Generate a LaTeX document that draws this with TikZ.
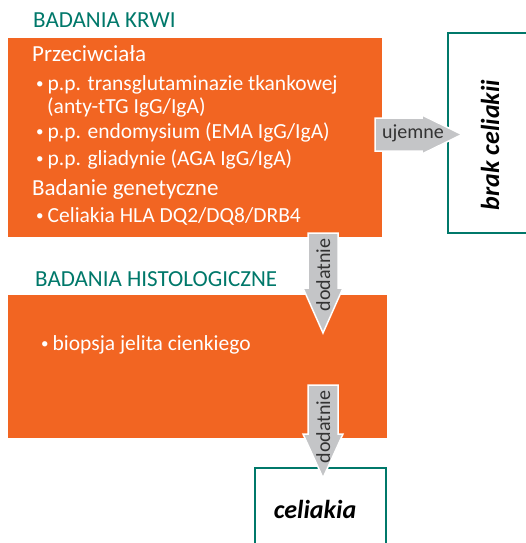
\documentclass[tikz,border=0pt]{standalone}
\usepackage{fontspec}
\setmainfont{Carlito}

\definecolor{pomarancz}{HTML}{F26522}
\definecolor{morski}{HTML}{00786A}
\definecolor{szary}{HTML}{C4C5C7}
\definecolor{ciemny}{HTML}{333333}

% mała kropka wypunktowania
\newcommand{\kropka}{\raisebox{1.5pt}{\fontsize{15}{15}\selectfont\textbullet}\hspace{4pt}}

\begin{document}
\begin{tikzpicture}[
    x=1pt, y=-1pt,
    blok/.style={fill=pomarancz, draw=none, inner sep=0pt, anchor=north west},
    wynik/.style={draw=morski, line width=2pt, fill=white, inner sep=0pt, anchor=north west},
    naglowek/.style={anchor=base west, inner sep=0pt, text=morski, font=\fontsize{23}{27}\selectfont},
    tytul/.style={anchor=base west, inner sep=0pt, text=white, font=\fontsize{23}{27}\selectfont},
    punkt/.style={anchor=base west, inner sep=0pt, text=white, font=\fontsize{21.5}{25}\selectfont},
    strzalka/.style={fill=szary, draw=white, line width=1.5pt, line join=miter},
    etykieta/.style={anchor=base, inner sep=0pt, text=ciemny, font=\fontsize{20}{23}\selectfont},
    wniosek/.style={anchor=base, inner sep=0pt, text=black, font=\fontsize{26}{30}\selectfont\bfseries\itshape}
]
\useasboundingbox (0,0) rectangle (526,543);

% Badania krwi
\node[naglowek] (hkrwi) at (33,28) {BADANIA KRWI};
\node[blok, minimum width=374, minimum height=199] (krwi) at (8,38) {};
\node[tytul] (przeciw) at (32,62) {Przeciwciała};
\node[punkt] (p1) at (36,90) {\kropka p.p. transglutaminazie tkankowej};
\node[punkt] (p1b) at (47,113) {(anty-tTG IgG/IgA)};
\node[punkt] (p2) at (36,138) {\kropka p.p. endomysium (EMA IgG/IgA)};
\node[punkt] (p3) at (36,165) {\kropka p.p. gliadynie (AGA IgG/IgA)};
\node[tytul] (genet) at (32,195) {Badanie genetyczne};
\node[punkt] (p4) at (36,222) {\kropka Celiakia HLA DQ2/DQ8/DRB4};

% Badania histologiczne
\node[naglowek] (hhist) at (35,286) {BADANIA HISTOLOGICZNE};
\node[blok, minimum width=379, minimum height=143] (hist) at (8,295) {};
\node[punkt] (p5) at (41,350) {\kropka biopsja jelita cienkiego};

% Wyniki
\node[wynik, minimum width=100, minimum height=200] (brak) at (447,32) {};
\node[wniosek, rotate=90] (tbrak) at (499,145) {brak celiakii};
\node[wynik, minimum width=131, minimum height=100] (celiakia) at (254,467) {};
\node[wniosek] (tceliakia) at (315,518) {celiakia};

% Strzałki
\draw[strzalka] (375,118) -- (422,118) -- (422,115) -- (462,134.5) -- (422,154)
    -- (422,151) -- (375,151) -- cycle;
\node[etykieta] (l1) at (413,138) {ujemne};

\draw[strzalka] (308,233) -- (308,288) -- (303,288) -- (323,333) -- (343,288)
    -- (338,288) -- (338,233) -- cycle;
\node[etykieta, rotate=90] (l2) at (330,275) {dodatnie};

\draw[strzalka] (308,385) -- (308,434) -- (303,434) -- (323,478) -- (343,434)
    -- (338,434) -- (338,385) -- cycle;
\node[etykieta, rotate=90] (l3) at (330,427) {dodatnie};

\end{tikzpicture}
\end{document}
